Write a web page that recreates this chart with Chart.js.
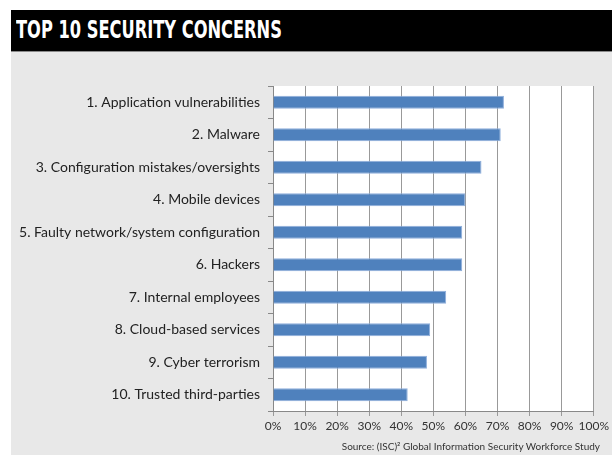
<!DOCTYPE html>
<html>
<head>
<meta charset="utf-8">
<script src="https://cdn.jsdelivr.net/npm/chart.js@4.4.1/dist/chart.umd.min.js"></script>
<style>
  body { margin: 0; background: #fff; width: 612px; height: 455px; overflow: hidden; position: relative; }
  #title { position: absolute; left: 11px; top: 10px; width: 601px; height: 41px; background: #000; }
  #title span { position: absolute; left: 5px; top: 5px; line-height: 41px; color: #fff; white-space: nowrap;
                font: bold 25px "DejaVu Sans", sans-serif; transform: scaleX(0.65); transform-origin: left center; }
  #panel { position: absolute; left: 11px; top: 51px; width: 601px; height: 404px; background: #e8e8e8;
           border-top: 1px solid #8a8a8a; box-sizing: border-box; }
  #source { position: absolute; right: 12px; bottom: 3px; font: 10px "Lato", sans-serif; color: #333; }
</style>
</head>
<body>
<div id="title"><span>TOP 10 SECURITY CONCERNS</span></div>
<div id="panel">
  <canvas id="concerns" width="601" height="403"></canvas>
  <div id="source">Source: (ISC)² Global Information Security Workforce Study</div>
</div>
<script>
// data (percent of respondents)
var concerns = [
    '1. Application vulnerabilities',
    '2. Malware',
    '3. Configuration mistakes/oversights',
    '4. Mobile devices',
    '5. Faulty network/system configuration',
    '6. Hackers',
    '7. Internal employees',
    '8. Cloud-based services',
    '9. Cyber terrorism',
    '10. Trusted third-parties'
];
var percents = [72, 71, 65, 60, 59, 59, 54, 49, 48, 42];
var xTicks = [0, 10, 20, 30, 40, 50, 60, 70, 80, 90, 100];

// white plot background
var plotBg = {
    id: 'plotBg',
    beforeDraw: function (chart) {
        var a = chart.chartArea;
        chart.ctx.save();
        chart.ctx.fillStyle = '#fff';
        chart.ctx.fillRect(a.left, a.top, a.right - a.left, a.bottom - a.top);
        chart.ctx.restore();
    }
};

var ctx = document.getElementById('concerns').getContext('2d');
var chart = new Chart(ctx, {
    type: 'bar',
    data: {
        labels: concerns,
        datasets: [{
            data: percents,
            backgroundColor: '#4f81bd',
            borderColor: '#8eaedb',
            borderWidth: 1,
            categoryPercentage: 1,
            barPercentage: 0.4
        }]
    },
    options: {
        indexAxis: 'y',
        responsive: false,
        animation: false,
        layout: { padding: { top: 34, right: 18, bottom: 20, left: 0 } },
        plugins: { legend: { display: false }, tooltip: { enabled: false } },
        scales: {
            x: {
                min: 0,
                max: 100,
                afterBuildTicks: function (scale) {
                    scale.ticks = xTicks.map(function (v) { return { value: v }; });
                },
                afterFit: function (scale) { scale.height = 24; },
                ticks: {
                    callback: function (v) { return v + '%'; },
                    color: '#333',
                    font: { family: 'Lato', size: 12 },
                    padding: 3,
                    maxRotation: 0,
                    minRotation: 0,
                    autoSkip: false
                },
                grid: { color: '#999', tickLength: 5 },
                border: { color: '#888' }
            },
            y: {
                afterFit: function (scale) { scale.width = 262; },
                ticks: {
                    color: '#222',
                    font: { family: 'Lato', size: 14 },
                    padding: 8
                },
                grid: { drawOnChartArea: false, offset: true, tickLength: 5, color: '#888' },
                border: { color: '#888' }
            }
        }
    },
    plugins: [plotBg]
});
</script>
</body>
</html>
